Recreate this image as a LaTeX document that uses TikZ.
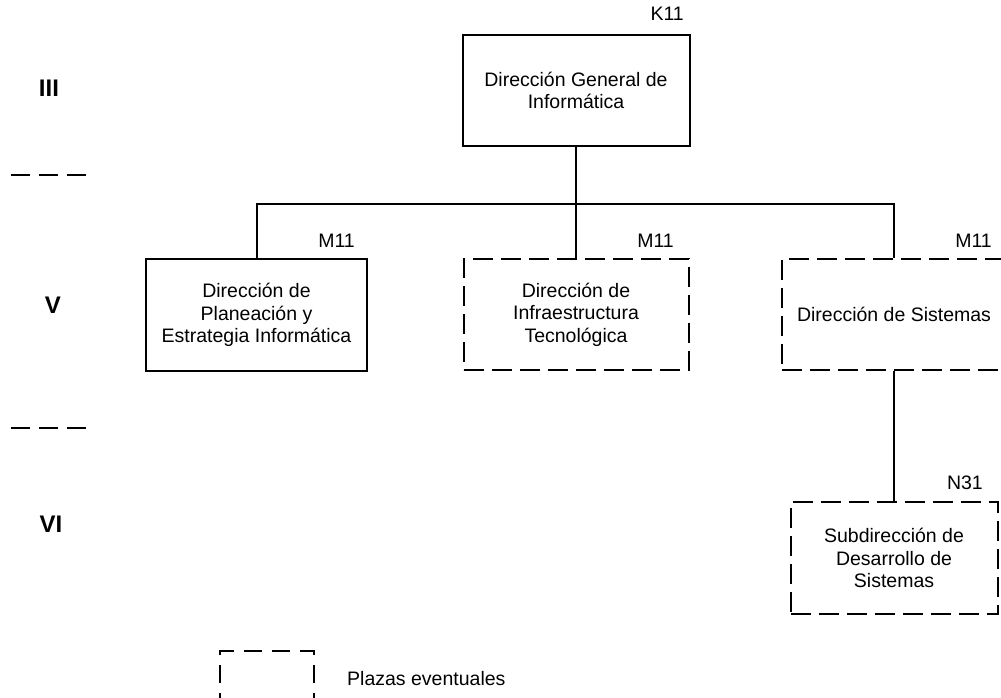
\documentclass[tikz,border=0pt]{standalone}
\usepackage{fontspec}
\setmainfont{Liberation Sans}
\begin{document}
\begin{tikzpicture}[x=1pt,y=-1pt,
  box/.style={draw=black, line width=2pt, inner sep=0pt, align=center,
    font=\fontsize{19.5}{22.5}\selectfont},
  evt/.style={box, dash pattern=on 20pt off 8pt},
  lbl/.style={font=\fontsize{19.5}{22.5}\selectfont, inner sep=0pt},
  lvl/.style={font=\fontsize{24}{26}\selectfont\bfseries, inner sep=0pt},
  conn/.style={draw=black, line width=2pt},
  sep/.style={draw=black, line width=2pt, dash pattern=on 19pt off 9pt}]
\useasboundingbox (0,0) rectangle (1001,698);
% boxes
\node[box, minimum width=227pt, minimum height=111pt] (dg) at (576,90.5) {Dirección General de\\Informática};
\node[box, minimum width=221pt, minimum height=112pt] (d1) at (256.5,315) {Dirección de\\Planeación y\\Estrategia Informática};
\node[evt, minimum width=225pt, minimum height=111pt] (d2) at (576,314.5) {Dirección de\\Infraestructura\\Tecnológica};
\node[evt, minimum width=224pt, minimum height=111pt] (d3) at (894,314.5) {Dirección de Sistemas};
\node[evt, minimum width=207pt, minimum height=112pt] (d4) at (894,558) {Subdirección de\\Desarrollo de\\Sistemas};
% connectors
\coordinate (j) at (576,204);
\draw[conn] (dg.south) -- (d2.north);
\draw[conn] (d1.north) |- (d3.north |- j) -- (d3.north);
\draw[conn] (d3.south) -- (d4.north);
% codes
\node[lbl, anchor=east] (k11) at (684,14) {K11};
\node[lbl, anchor=east] (m1) at (355,241) {M11};
\node[lbl, anchor=east] (m2) at (674,241) {M11};
\node[lbl, anchor=east] (m3) at (992,241) {M11};
\node[lbl, anchor=east] (n31) at (983,483) {N31};
% levels
\node[lvl] (l3) at (49,88) {III};
\node[lvl] (l5) at (53,305) {V};
\node[lvl] (l6) at (51,524) {VI};
\draw[sep] (11,175) -- (88,175);
\draw[sep] (11,428) -- (88,428);
% legend
\node[box, dash pattern=on 18pt off 10pt, minimum width=94pt, minimum height=50pt] (leg) at (267,676) {};
\node[lbl, anchor=west] (legt) at (347,679) {Plazas eventuales};
\end{tikzpicture}
\end{document}
